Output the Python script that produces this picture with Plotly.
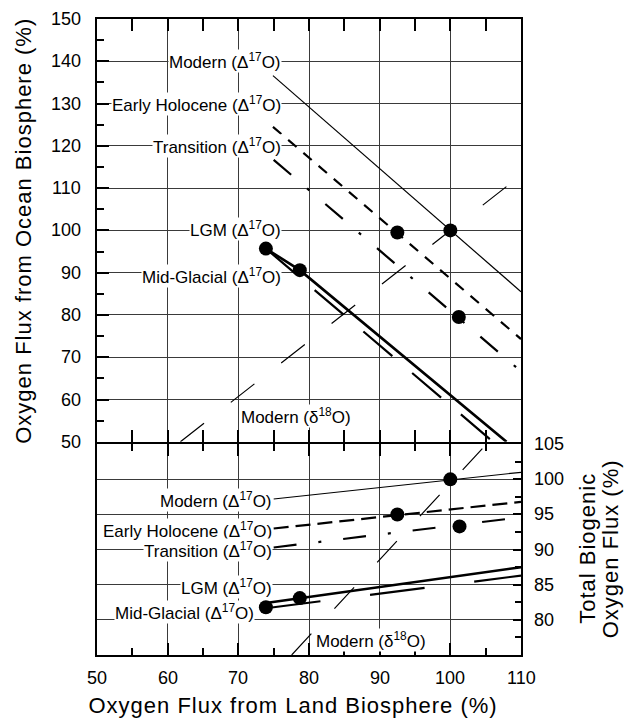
import plotly.graph_objects as go

# ---------------- data ----------------
# Filled dots, top panel: land flux (%) vs ocean flux (%)
dot_land_top = [73.9, 78.7, 92.5, 100.0, 101.2]
dot_ocean_top = [95.7, 90.6, 99.5, 100.0, 79.5]
# Filled dots, bottom panel: land flux (%) vs total biogenic flux (%)
dot_land_bot = [73.9, 78.7, 92.5, 100.0, 101.3]
dot_total_bot = [81.8, 83.1, 95.0, 100.0, 93.3]

# Top panel lines (land %, ocean %)
modern_top_x = [74.9, 110.0]
modern_top_y = [136.6, 85.5]
holocene_top_x = [74.9, 110.0]
holocene_top_y = [124.5, 74.3]
transition_top_x = [75.0, 110.0]
transition_top_y = [116.7, 66.65]
lgm_top_x = [73.9, 78.7, 107.95]
lgm_top_y = [95.7, 90.6, 50.0]
midglacial_top_x = [73.9, 106.05]
midglacial_top_y = [95.7, 50.0]
d18o_top_x = [61.8, 108.7]
d18o_top_y = [50.0, 111.35]

# Bottom panel lines (land %, total %)
modern_bot_x = [75.0, 110.0]
modern_bot_y = [97.2, 101.0]
holocene_bot_x = [75.0, 110.0]
holocene_bot_y = [93.0, 96.8]
transition_bot_x = [75.0, 110.0]
transition_bot_y = [90.3, 94.6]
lgm_bot_x = [73.9, 110.0]
lgm_bot_y = [82.4, 87.5]
midglacial_bot_x = [73.9, 110.0]
midglacial_bot_y = [81.65, 86.3]
d18o_bot_x = [77.55, 105.1]
d18o_bot_y = [75.0, 105.0]

x_ticks = [50, 60, 70, 80, 90, 100, 110]
y_top_ticks = [50, 60, 70, 80, 90, 100, 110, 120, 130, 140, 150]
y_bot_ticks = [80, 85, 90, 95, 100, 105]

FONT = "Liberation Sans, Arial, Helvetica, sans-serif"
GRID = "#3a3a3a"
LW = 2.4            # frame line width
PLOT_H = 636.0      # plot area height in px
PLOT_W = 424.0      # plot area width in px
HALF = (LW / 2) / PLOT_H

fig = go.Figure()


def add_line(x, y, yaxis, width, dash):
    fig.add_trace(go.Scatter(x=x, y=y, xaxis="x", yaxis=yaxis, mode="lines",
                             line=dict(color="black", width=width, dash=dash),
                             showlegend=False, hoverinfo="skip"))


# top panel
add_line(modern_top_x, modern_top_y, "y", 1.2, "solid")
add_line(holocene_top_x, holocene_top_y, "y", 2.2, "11px,9px")
add_line(transition_top_x, transition_top_y, "y", 2.2, "23px,21px,3px,21px")
add_line(lgm_top_x, lgm_top_y, "y", 2.6, "solid")
add_line(midglacial_top_x, midglacial_top_y, "y", 2.2, "38px,26px")
add_line(d18o_top_x, d18o_top_y, "y", 1.2, "30px,34px")

# bottom panel
add_line(modern_bot_x, modern_bot_y, "y2", 1.2, "solid")
add_line(holocene_bot_x, holocene_bot_y, "y2", 2.2, "15px,7px")
add_line(transition_bot_x, transition_bot_y, "y2", 2.2, "23px,22px,3px,22px")
add_line(lgm_bot_x, lgm_bot_y, "y2", 2.6, "solid")
add_line(midglacial_bot_x, midglacial_bot_y, "y2", 2.2, "55px,50px")
add_line(d18o_bot_x, d18o_bot_y, "y2", 1.2, "29px,34px")

fig.add_trace(go.Scatter(x=dot_land_top, y=dot_ocean_top, xaxis="x", yaxis="y",
                         mode="markers", marker=dict(color="black", size=14),
                         showlegend=False, hoverinfo="skip"))
fig.add_trace(go.Scatter(x=dot_land_bot, y=dot_total_bot, xaxis="x", yaxis="y2",
                         mode="markers", marker=dict(color="black", size=14),
                         showlegend=False, hoverinfo="skip"))

D17 = "(\u0394<sup>17</sup>O)"
D18 = "(\u03b4<sup>18</sup>O)"
labels = [
    ("Modern " + D17, 76.2, 140, "y", "right"),
    ("Early Holocene " + D17, 76.2, 130, "y", "right"),
    ("Transition " + D17, 76.2, 120, "y", "right"),
    ("LGM " + D17, 76.2, 100.3, "y", "right"),
    ("Mid-Glacial " + D17, 76.2, 89.3, "y", "right"),
    ("Modern " + D18, 78.2, 56.1, "y", "center"),
    ("Modern " + D17, 74.9, 97.1, "y2", "right"),
    ("Early Holocene " + D17, 74.9, 92.8, "y2", "right"),
    ("Transition " + D17, 74.9, 90.0, "y2", "right"),
    ("LGM " + D17, 74.9, 84.7, "y2", "right"),
    ("Mid-Glacial " + D17, 72.3, 81.1, "y2", "right"),
    ("Modern " + D18, 88.8, 77.1, "y2", "center"),
]
annotations = []
for text, x, y, yref, xanchor in labels:
    annotations.append(dict(text=text, x=x, y=y, xref="x", yref=yref,
                            xanchor=xanchor, yanchor="middle", showarrow=False,
                            bgcolor="white", borderpad=0,
                            font=dict(family=FONT, size=17, color="black")))

# tick labels as annotations placed on the axes' own scales
tick_font = dict(family=FONT, size=18, color="black")
for v in x_ticks:
    annotations.append(dict(text=str(v), x=v, y=-23 / PLOT_H, xref="x", yref="paper",
                            xanchor="center", yanchor="middle", showarrow=False,
                            font=tick_font))
for v in y_top_ticks:
    annotations.append(dict(text=str(v), x=-14 / PLOT_W, y=v, xref="paper", yref="y",
                            xanchor="right", yanchor="middle", showarrow=False,
                            font=tick_font))
for v in y_bot_ticks:
    annotations.append(dict(text=str(v), x=1 + 11 / PLOT_W, y=v, xref="paper", yref="y2",
                            xanchor="left", yanchor="middle", showarrow=False,
                            font=tick_font))

# axis titles placed as paper annotations
titles = [
    ("Oxygen Flux from Ocean Biosphere (%)", -73 / PLOT_W, 0.667, -90),
    ("Total Biogenic", 491 / PLOT_W, 0.167, -90),
    ("Oxygen Flux (%)", 514 / PLOT_W, 0.167, -90),
    ("Oxygen Flux from Land Biosphere (%)", 0.4634, -50 / PLOT_H, 0),
]
for text, x, y, ang in titles:
    annotations.append(dict(text=text, x=x, y=y, xref="paper", yref="paper",
                            xanchor="center", yanchor="middle", showarrow=False,
                            textangle=ang,
                            font=dict(family=FONT, size=22, color="black")))

axis_common = dict(showline=True, linewidth=LW, linecolor="black",
                   ticks="inside", tickcolor="black", tickwidth=2,
                   showgrid=True, gridcolor=GRID, gridwidth=1.2, zeroline=False,
                   automargin=False, showticklabels=False)

fig.update_layout(
    width=626, height=719,
    margin=dict(l=97, r=105, t=19, b=64),
    paper_bgcolor="white", plot_bgcolor="white",
    font=dict(family=FONT, size=18, color="black"),
    annotations=annotations,
    xaxis=dict(domain=[0, 1], anchor="y2", range=[50, 110], tickvals=x_ticks,
               ticklen=12, mirror="allticks",
               minor=dict(dtick=5, tick0=50, ticks="inside", ticklen=7,
                          tickwidth=1.5, tickcolor="black", showgrid=False),
               **axis_common),
    yaxis=dict(domain=[1 / 3 + HALF, 1], anchor="x", range=[50, 150],
               tickvals=y_top_ticks, ticklen=12, mirror=True,
               minor=dict(dtick=5, tick0=50, ticks="inside", ticklen=7,
                          tickwidth=1.5, tickcolor="black", showgrid=False),
               **axis_common),
    yaxis2=dict(domain=[0, 1 / 3 - HALF], anchor="x", side="right", range=[75, 105],
                tickvals=y_bot_ticks, ticklen=8, mirror=True,
                minor=dict(dtick=2.5, tick0=75, ticks="inside", ticklen=6,
                           tickwidth=1.5, tickcolor="black", showgrid=False),
                **axis_common),
)

# the reference's axis titles are slightly letter-spaced
post = """
var gd = document.getElementById('{plot_id}');
gd.querySelectorAll('.annotation-text').forEach(function (t) {
  var s = t.textContent;
  if (s.indexOf('Oxygen Flux') === 0 || s === 'Total Biogenic') {
    t.style.letterSpacing = '1px';
  }
});
"""
fig.write_html("out.html", post_script=post)
